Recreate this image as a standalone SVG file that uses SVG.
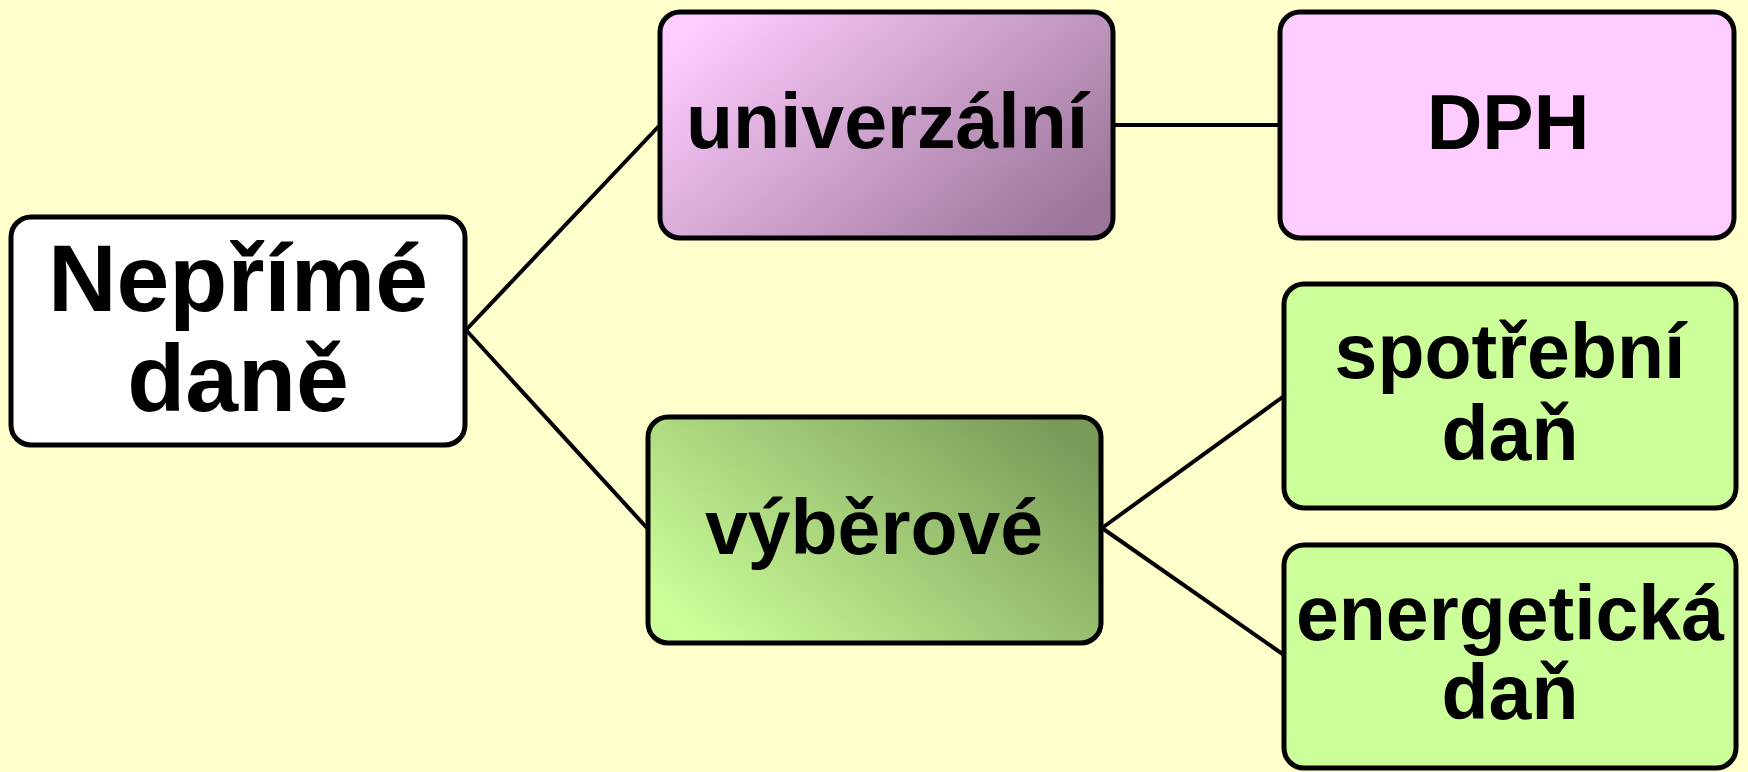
<svg xmlns="http://www.w3.org/2000/svg" width="1748" height="772" viewBox="0 0 1748 772">
<defs>
<linearGradient id="gPink" x1="0" y1="0.2" x2="1" y2="0.8">
<stop offset="0" stop-color="#FFCCFF"/>
<stop offset="1" stop-color="#9A7599"/>
</linearGradient>
<linearGradient id="gGreen" x1="0" y1="0.8" x2="1" y2="0.2">
<stop offset="0" stop-color="#CCFF99"/>
<stop offset="1" stop-color="#7A9A58"/>
</linearGradient>
<style>
.box{stroke:#000;stroke-width:5}
.t{font-family:"Liberation Sans",Arial,sans-serif;font-weight:bold;fill:#000;text-anchor:middle}
.c{stroke:#000;stroke-width:4;fill:none}
</style>
</defs>
<rect x="0" y="0" width="1748" height="772" fill="#FFFFCC"/>
<g id="connectors">
<line class="c" x1="466" y1="330" x2="659" y2="126"/>
<line class="c" x1="466" y1="330" x2="647" y2="528"/>
<line class="c" x1="1113" y1="125" x2="1282" y2="125"/>
<line class="c" x1="1102" y1="528" x2="1284" y2="396"/>
<line class="c" x1="1102" y1="528" x2="1284" y2="655"/>
</g>
<g id="n-neprime">
<rect class="box" x="11" y="217" width="454" height="228" rx="20" fill="#FFFFFF"/>
<text class="t" x="238" y="311" font-size="95">Nepřímé</text>
<text class="t" x="238" y="411" font-size="95">daně</text>
</g>
<g id="n-univerzalni">
<rect class="box" x="660" y="12" width="453" height="226" rx="20" fill="url(#gPink)"/>
<text class="t" x="887" y="148" font-size="77">univerzální</text>
</g>
<g id="n-dph">
<rect class="box" x="1280" y="12" width="454" height="226" rx="20" fill="#FFCCFF"/>
<text class="t" x="1508" y="149" font-size="77">DPH</text>
</g>
<g id="n-vyberove">
<rect class="box" x="648" y="417" width="453" height="226" rx="20" fill="url(#gGreen)"/>
<text class="t" x="874" y="554" font-size="77">výběrové</text>
</g>
<g id="n-spotrebni">
<rect class="box" x="1284" y="284" width="452" height="224" rx="20" fill="#CCFF99"/>
<text class="t" x="1510" y="378" font-size="77">spotřební</text>
<text class="t" x="1510" y="460" font-size="77">daň</text>
</g>
<g id="n-energeticka">
<rect class="box" x="1284" y="545" width="452" height="223" rx="20" fill="#CCFF99"/>
<text class="t" x="1510" y="640" font-size="77">energetická</text>
<text class="t" x="1510" y="719" font-size="77">daň</text>
</g>
</svg>
